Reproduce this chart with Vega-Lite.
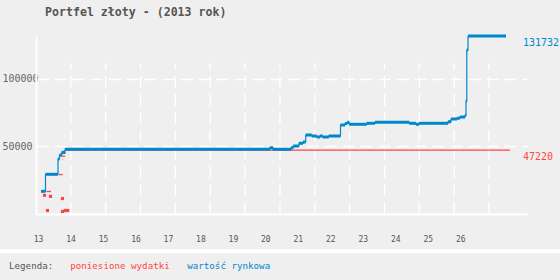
{
  "$schema": "https://vega.github.io/schema/vega-lite/v6.json",
  "width": 491,
  "height": 178,
  "autosize": {"type": "none"},
  "padding": {"left": 36, "top": 36, "right": 33, "bottom": 66},
  "background": "#efefef",
  "config": {"view": {"stroke": null}, "font": "DejaVu Sans Mono"},
  "title": {"text": "Portfel złoty - (2013 rok)", "anchor": "start", "frame": "group", "dx": 9, "offset": 6.5, "baseline": "alphabetic", "font": "DejaVu Sans Mono", "fontSize": 11.6, "fontWeight": "bold", "color": "#555555"},
  "datasets": {
    "siatka": [
      {"x": 14.011}, {"x": 15.084}, {"x": 16.157}, {"x": 17.230}, {"x": 18.303}, {"x": 19.376}, {"x": 20.449},
      {"x": 21.522}, {"x": 22.595}, {"x": 23.668}, {"x": 24.741}, {"x": 25.814}, {"x": 26.887}
    ],
    "wartosc": [
      {"seria": "wartość rynkowa", "x": 13.092, "x2": 13.231, "y": 16800},
      {"seria": "wartość rynkowa", "x": 13.231, "x2": 13.616, "y": 29380},
      {"seria": "wartość rynkowa", "x": 13.616, "x2": 13.662, "y": 40700},
      {"seria": "wartość rynkowa", "x": 13.662, "x2": 13.730, "y": 43660},
      {"seria": "wartość rynkowa", "x": 13.730, "x2": 13.831, "y": 45660},
      {"seria": "wartość rynkowa", "x": 13.831, "x2": 20.143, "y": 47880},
      {"seria": "wartość rynkowa", "x": 20.143, "x2": 20.235, "y": 49060},
      {"seria": "wartość rynkowa", "x": 20.235, "x2": 20.789, "y": 47880},
      {"seria": "wartość rynkowa", "x": 20.789, "x2": 20.860, "y": 49060},
      {"seria": "wartość rynkowa", "x": 20.860, "x2": 21.036, "y": 50320},
      {"seria": "wartość rynkowa", "x": 21.036, "x2": 21.159, "y": 52320},
      {"seria": "wartość rynkowa", "x": 21.159, "x2": 21.242, "y": 53280},
      {"seria": "wartość rynkowa", "x": 21.242, "x2": 21.427, "y": 58460},
      {"seria": "wartość rynkowa", "x": 21.427, "x2": 21.581, "y": 57720},
      {"seria": "wartość rynkowa", "x": 21.581, "x2": 21.682, "y": 56980},
      {"seria": "wartość rynkowa", "x": 21.682, "x2": 21.765, "y": 57720},
      {"seria": "wartość rynkowa", "x": 21.765, "x2": 21.950, "y": 56980},
      {"seria": "wartość rynkowa", "x": 21.950, "x2": 22.313, "y": 57720},
      {"seria": "wartość rynkowa", "x": 22.313, "x2": 22.452, "y": 65860},
      {"seria": "wartość rynkowa", "x": 22.452, "x2": 22.523, "y": 66970},
      {"seria": "wartość rynkowa", "x": 22.523, "x2": 22.584, "y": 67860},
      {"seria": "wartość rynkowa", "x": 22.584, "x2": 23.120, "y": 66380},
      {"seria": "wartość rynkowa", "x": 23.120, "x2": 23.376, "y": 67120},
      {"seria": "wartość rynkowa", "x": 23.376, "x2": 24.432, "y": 67860},
      {"seria": "wartość rynkowa", "x": 24.432, "x2": 24.638, "y": 67120},
      {"seria": "wartość rynkowa", "x": 24.638, "x2": 24.730, "y": 66380},
      {"seria": "wartość rynkowa", "x": 24.730, "x2": 25.623, "y": 67120},
      {"seria": "wartość rynkowa", "x": 25.623, "x2": 25.715, "y": 68300},
      {"seria": "wartość rynkowa", "x": 25.715, "x2": 25.900, "y": 70300},
      {"seria": "wartość rynkowa", "x": 25.900, "x2": 25.993, "y": 70900},
      {"seria": "wartość rynkowa", "x": 25.993, "x2": 26.147, "y": 71780},
      {"seria": "wartość rynkowa", "x": 26.147, "x2": 26.177, "y": 73040},
      {"seria": "wartość rynkowa", "x": 26.177, "x2": 26.202, "y": 83620},
      {"seria": "wartość rynkowa", "x": 26.202, "x2": 26.239, "y": 121360},
      {"seria": "wartość rynkowa", "x": 26.239, "x2": 27.409, "y": 131732}
    ],
    "wydatki_linie": [
      {"seria": "poniesione wydatki", "x": 13.268, "x2": 13.400, "y": 16650},
      {"seria": "poniesione wydatki", "x": 13.647, "x2": 13.760, "y": 29200},
      {"seria": "poniesione wydatki", "x": 13.708, "x2": 13.831, "y": 42800},
      {"seria": "poniesione wydatki", "x": 13.739, "x2": 13.853, "y": 44900},
      {"seria": "poniesione wydatki", "x": 13.744, "x2": 13.760, "y": 40500},
      {"seria": "poniesione wydatki", "x": 13.831, "x2": 27.532, "y": 47220}
    ],
    "wydatki_punkty": [
      {"seria": "poniesione wydatki", "x": 13.200, "y": 13840},
      {"seria": "poniesione wydatki", "x": 13.385, "y": 13030},
      {"seria": "poniesione wydatki", "x": 13.754, "y": 11470},
      {"seria": "poniesione wydatki", "x": 13.292, "y": 2590},
      {"seria": "poniesione wydatki", "x": 13.754, "y": 1850},
      {"seria": "poniesione wydatki", "x": 13.841, "y": 2590},
      {"seria": "poniesione wydatki", "x": 13.917, "y": 2590}
    ],
    "etykiety": [
      {"seria": "wartość rynkowa", "x": 27.932, "y": 131732},
      {"seria": "poniesione wydatki", "x": 27.932, "y": 47220}
    ]
  },
  "layer": [
    {
      "data": {"name": "siatka"},
      "mark": {"type": "rule", "color": "white", "strokeWidth": 1.3, "strokeDash": [12, 6]},
      "encoding": {
        "x": {"field": "x", "type": "quantitative", "title": null,
          "scale": {"domain": [12.9384, 28.0554], "nice": false, "zero": false},
          "axis": {"values": [13, 14, 15, 16, 17, 18, 19, 20, 21, 22, 23, 24, 25, 26], "tickCount": 40, "title": null, "grid": false, "ticks": false, "tickSize": 0, "domainColor": "white", "domainWidth": 2, "labelFont": "DejaVu Sans Mono", "labelFontSize": 8, "labelColor": "#555555", "labelPadding": 21, "labelFlush": false, "labelOverlap": false, "format": "d"}},
        "y": {"datum": 0, "type": "quantitative"},
        "y2": {"datum": 111750}
      }
    },
    {
      "data": {"values": [{}]},
      "mark": {"type": "rule", "color": "white", "strokeWidth": 4},
      "encoding": {
        "x": {"datum": 11.8, "type": "quantitative"},
        "x2": {"datum": 29.3},
        "y": {"datum": -27600, "type": "quantitative"}
      }
    },
    {
      "data": {"name": "wydatki_linie"},
      "mark": {"type": "rule", "strokeWidth": 1.3, "strokeCap": "butt"},
      "encoding": {
        "x": {"field": "x", "type": "quantitative", "title": null},
        "x2": {"field": "x2"},
        "y": {"field": "y", "type": "quantitative", "title": null,
          "scale": {"domain": [0, 131732], "nice": false, "zero": true},
          "axis": {"values": [50000, 100000], "title": null, "grid": true, "gridColor": "white", "gridDash": [12, 6], "gridWidth": 1.3, "ticks": false, "tickSize": 0, "domainColor": "white", "domainWidth": 2, "labelAlign": "left", "labelPadding": 34, "labelFont": "DejaVu Sans Mono", "labelFontSize": 10, "labelColor": "#666666", "labelBaseline": "middle", "labelOverlap": false, "format": "d"}},
        "color": {"field": "seria", "type": "nominal",
          "scale": {"domain": ["poniesione wydatki", "wartość rynkowa"], "range": ["#ff4444", "#0088cc"]},
          "legend": {"title": "Legenda:", "orient": "none", "legendX": -27, "legendY": 225, "direction": "horizontal", "titleOrient": "left", "titleFont": "DejaVu Sans Mono", "titleFontSize": 9.2, "titleFontWeight": "normal", "titleColor": "#555555", "titlePadding": 7, "labelFont": "DejaVu Sans Mono", "labelFontSize": 9.2, "labelOffset": 0, "symbolSize": 0, "symbolOpacity": 0, "symbolStrokeWidth": 0, "columnPadding": 8, "padding": 0,
            "encode": {"labels": {"update": {"fill": {"signal": "scale('color', datum.value)"}}}}}}
      }
    },
    {
      "data": {"name": "wydatki_punkty"},
      "mark": {"type": "point", "shape": "square", "filled": true, "size": 10, "opacity": 1},
      "encoding": {
        "x": {"field": "x", "type": "quantitative", "title": null},
        "y": {"field": "y", "type": "quantitative", "title": null},
        "color": {"field": "seria", "type": "nominal"}
      }
    },
    {
      "data": {"name": "wartosc"},
      "mark": {"type": "line", "interpolate": "step-after", "strokeWidth": 1.2},
      "encoding": {
        "x": {"field": "x", "type": "quantitative", "title": null},
        "y": {"field": "y", "type": "quantitative", "title": null},
        "color": {"field": "seria", "type": "nominal"}
      }
    },
    {
      "data": {"name": "wartosc"},
      "mark": {"type": "rule", "strokeWidth": 3, "strokeCap": "butt"},
      "encoding": {
        "x": {"field": "x", "type": "quantitative", "title": null},
        "x2": {"field": "x2"},
        "y": {"field": "y", "type": "quantitative", "title": null},
        "color": {"field": "seria", "type": "nominal"}
      }
    },
    {
      "data": {"name": "etykiety"},
      "mark": {"type": "text", "align": "left", "baseline": "middle", "dy": 7, "font": "DejaVu Sans Mono", "fontSize": 10},
      "encoding": {
        "x": {"field": "x", "type": "quantitative", "title": null},
        "y": {"field": "y", "type": "quantitative", "title": null},
        "text": {"field": "y", "type": "quantitative", "format": "d"},
        "color": {"field": "seria", "type": "nominal"}
      }
    }
  ]
}
